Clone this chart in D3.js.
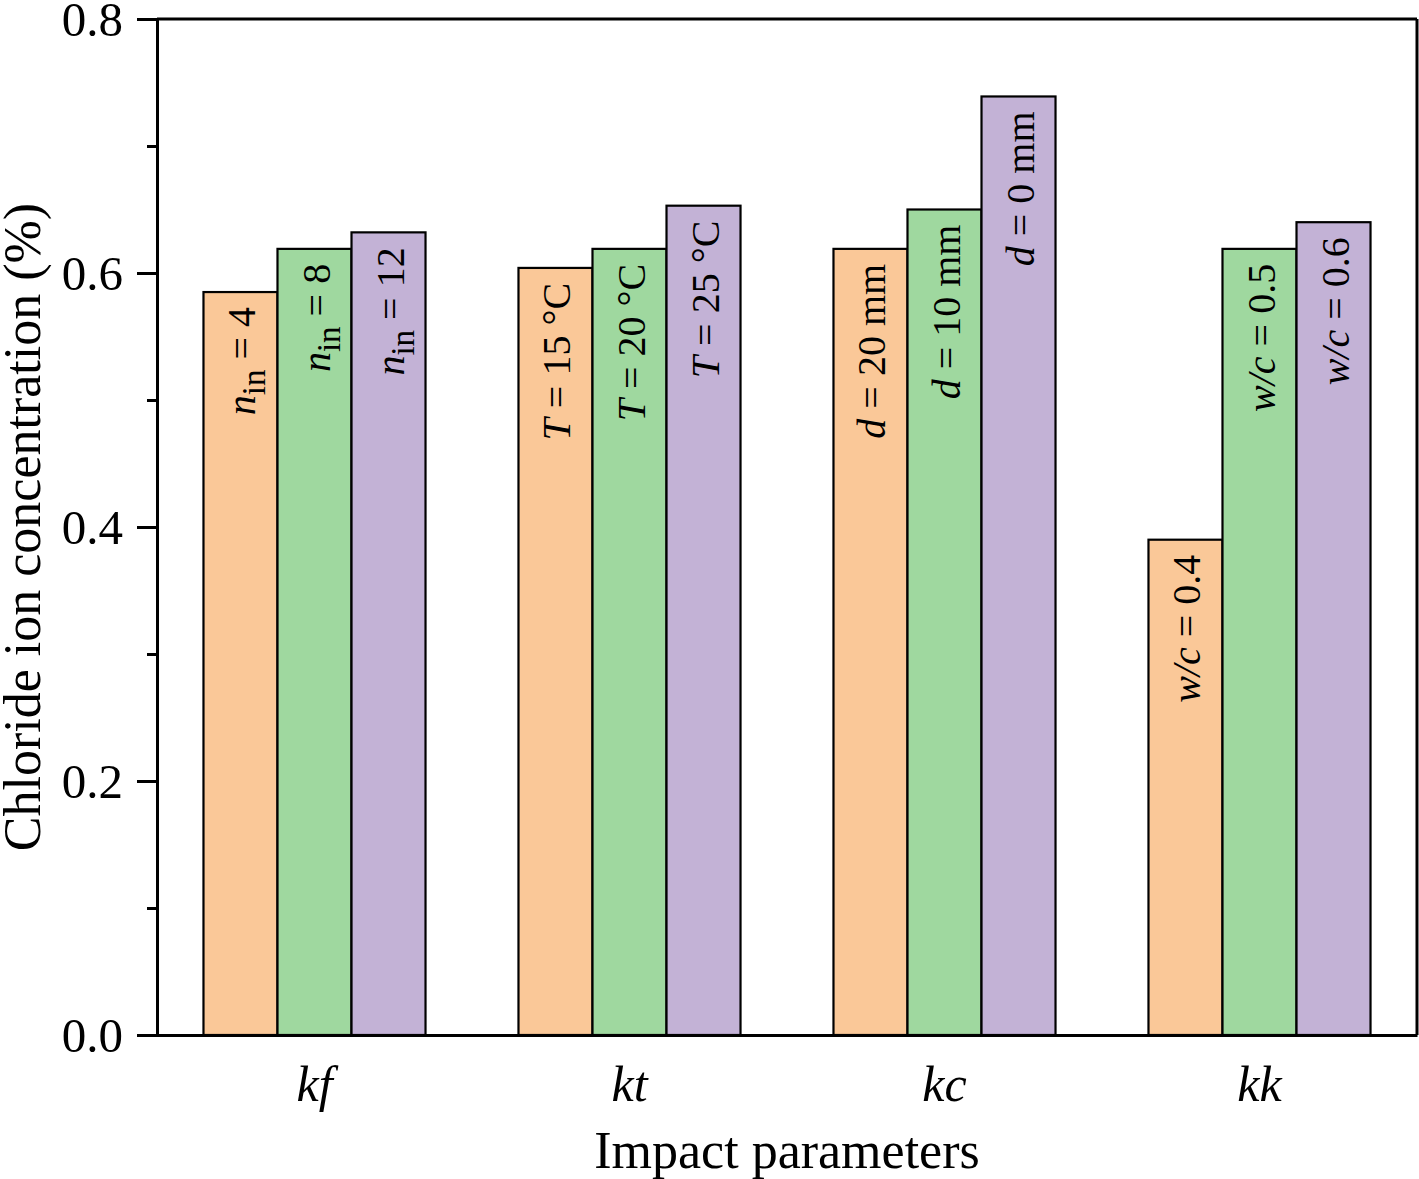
<!DOCTYPE html>
<html>
<head>
<meta charset="utf-8">
<script src="https://cdn.jsdelivr.net/npm/d3@7"></script>
<style>
  html, body { margin: 0; padding: 0; background: #fff; }
  svg { display: block; font-family: "Liberation Serif", "Times New Roman", serif; }
</style>
</head>
<body>
<svg id="chart" width="1419" height="1179"></svg>
<script>
// ---- data ----
const categories = ["kf", "kt", "kc", "kk"];
const seriesNames = ["low", "mid", "high"];
const valuesLow  = [0.585, 0.604, 0.619, 0.390];
const valuesMid  = [0.619, 0.619, 0.650, 0.619];
const valuesHigh = [0.632, 0.653, 0.739, 0.640];
const labelsLow  = ["n_in = 4",  "T = 15 °C", "d = 20 mm", "w/c = 0.4"];
const labelsMid  = ["n_in = 8",  "T = 20 °C", "d = 10 mm", "w/c = 0.5"];
const labelsHigh = ["n_in = 12", "T = 25 °C", "d = 0 mm",  "w/c = 0.6"];
const majorTicks = [0, 0.2, 0.4, 0.6, 0.8];
const minorTicks = [0.1, 0.3, 0.5, 0.7];
const colors = ["#FAC898", "#9FD89F", "#C3B2D6"];

const seriesValues = [valuesLow, valuesMid, valuesHigh];
const seriesLabels = [labelsLow, labelsMid, labelsHigh];

// ---- layout ----
const svg = d3.select("#chart");
const mLeft = 157, mRight = 1417, mTop = 19, mBottom = 1035;

const x0 = d3.scaleBand().domain(categories).range([mLeft, mRight]).padding(0);
const x1 = d3.scaleBand().domain(seriesNames).range([0, x0.bandwidth()])
  .paddingInner(0).paddingOuter(0.628);
const y = d3.scaleLinear().domain([0, 0.8]).range([mBottom, mTop]);

const rows = [];
categories.forEach((c, ci) => {
  seriesNames.forEach((s, si) => {
    rows.push({ cat: c, ser: s, si, value: seriesValues[si][ci], label: seriesLabels[si][ci] });
  });
});

// frame top & right
svg.append("line").attr("x1", mLeft).attr("x2", mRight).attr("y1", mTop).attr("y2", mTop)
  .attr("stroke", "#000").attr("stroke-width", 3);
svg.append("line").attr("x1", mRight).attr("x2", mRight).attr("y1", mTop).attr("y2", mBottom)
  .attr("stroke", "#000").attr("stroke-width", 3);

// bars
const g = svg.append("g");
g.selectAll("rect").data(rows).join("rect")
  .attr("x", d => x0(d.cat) + x1(d.ser))
  .attr("y", d => y(d.value))
  .attr("width", x1.bandwidth())
  .attr("height", d => y(0) - y(d.value))
  .attr("fill", d => colors[d.si])
  .attr("stroke", "#000")
  .attr("stroke-width", 2.2);

// bar labels (rotated)
function renderLabel(sel, str) {
  const [lhs, rhs] = str.split(" = ");
  const [v, sub] = lhs.split("_");
  sel.append("tspan").attr("font-style", "italic").text(v);
  if (sub) {
    sel.append("tspan").attr("baseline-shift", "-30%").attr("font-size", 33).text(sub);
    sel.append("tspan").attr("baseline-shift", "0%").text("\u00a0= " + rhs);
  } else {
    sel.append("tspan").text(" = " + rhs);
  }
}
rows.forEach(d => {
  const cx = x0(d.cat) + x1(d.ser) + x1.bandwidth() / 2;
  const ty = y(d.value) + 15;
  const t = svg.append("text")
    .attr("transform", `translate(${cx + 15},${ty}) rotate(-90)`)
    .attr("text-anchor", "end")
    .attr("font-size", 40)
    .attr("fill", "#000");
  renderLabel(t, d.label);
});

// y axis
const yAxis = svg.append("g").attr("transform", `translate(${mLeft},0)`)
  .call(d3.axisLeft(y).tickValues(majorTicks).tickSize(20).tickPadding(14)
    .tickFormat(d3.format(".1f")));
yAxis.selectAll("text").attr("font-size", 49).attr("font-family", "Liberation Serif")
  .attr("fill", "#000").attr("dy", "0.34em");
yAxis.select(".domain").attr("stroke-width", 3);
yAxis.selectAll(".tick line").attr("stroke-width", 3);

const yMinor = svg.append("g").attr("transform", `translate(${mLeft},0)`)
  .call(d3.axisLeft(y).tickValues(minorTicks).tickSize(10).tickFormat(""));
yMinor.select(".domain").remove();
yMinor.selectAll(".tick line").attr("stroke-width", 3);

// x axis
const xAxis = svg.append("g").attr("transform", `translate(0,${mBottom})`)
  .call(d3.axisBottom(x0).tickSize(0).tickPadding(30).tickSizeOuter(0));
xAxis.select(".domain").attr("stroke-width", 3);
xAxis.selectAll("text").attr("font-size", 50).attr("font-style", "italic")
  .attr("font-family", "Liberation Serif").attr("fill", "#000");

// axis titles
svg.append("text")
  .attr("x", (mLeft + mRight) / 2).attr("y", 1168)
  .attr("text-anchor", "middle").attr("font-size", 52).text("Impact parameters");
svg.append("text")
  .attr("transform", `translate(40,${(mTop + mBottom) / 2}) rotate(-90)`)
  .attr("text-anchor", "middle").attr("font-size", 52).text("Chloride ion concentration (%)");
</script>
</body>
</html>
